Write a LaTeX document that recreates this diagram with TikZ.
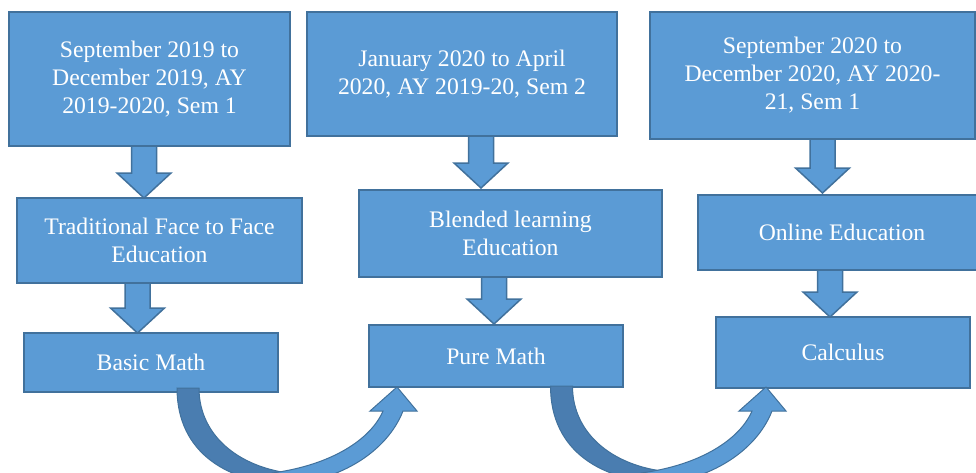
\documentclass[tikz,border=0pt]{standalone}
\usepackage{fontspec}
\setmainfont{Liberation Serif}
\usetikzlibrary{calc}

\definecolor{boxblue}{HTML}{5B9BD5}
\definecolor{boxline}{HTML}{41719C}
\definecolor{bandback}{HTML}{4A7DB0}

\tikzset{
    stagebox/.style={rectangle, draw=boxline, fill=boxblue, line width=1.5pt,
        inner sep=0pt, outer sep=0pt, align=center, text=white,
        font=\fontsize{23.7}{28}\selectfont},
    blockdown/.style={draw=boxline, fill=boxblue, line width=1.5pt,
        to path={($(\tikztostart)+(-12.5,0)$) -- ($(\tikztostart)+(12.5,0)$)
            -- ($(\tikztotarget)+(12.5,-25)$) -- ($(\tikztotarget)+(27,-25)$)
            -- (\tikztotarget) -- ($(\tikztotarget)+(-27,-25)$)
            -- ($(\tikztotarget)+(-12.5,-25)$) -- cycle}},
    curveback/.style={draw=boxline, fill=bandback, line width=1pt,
        to path={($(\tikztostart)+(-11,0)$)
            .. controls ($(\tikztostart)+(-11,65)$) and ($(\tikztostart)+(40,97)$) .. ($(\tikztostart)+(110,97)$)
            -- ($(\tikztostart)+(110,86)$)
            .. controls ($(\tikztostart)+(55,82)$) and ($(\tikztostart)+(11,50)$) .. ($(\tikztostart)+(11,0)$) -- cycle}},
    curvefront/.style={draw=boxline, fill=boxblue, line width=1pt,
        to path={($(\tikztotarget)+(-125,98)$)
            .. controls ($(\tikztotarget)+(-60,98)$) and ($(\tikztotarget)+(-10,65)$) .. ($(\tikztotarget)+(6,24)$)
            -- ($(\tikztotarget)+(20,24)$) -- (\tikztotarget) -- ($(\tikztotarget)+(-27,24)$)
            -- ($(\tikztotarget)+(-14,24)$)
            .. controls ($(\tikztotarget)+(-26,52)$) and ($(\tikztotarget)+(-65,78)$) .. ($(\tikztotarget)+(-125,86)$) -- cycle}}
}

\begin{document}
\begin{tikzpicture}[x=1pt, y=-1pt]
    \useasboundingbox (0,0) rectangle (976,472);

    % semesters
    \node[stagebox, minimum width=281pt, minimum height=134pt] (a1) at (149.5,79)
        {September 2019 to\\December 2019, AY\\2019-2020, Sem 1};
    \node[stagebox, minimum width=310pt, minimum height=124pt] (b1) at (462,74)
        {January 2020 to April\\2020, AY 2019-20, Sem 2};
    \node[stagebox, minimum width=325pt, minimum height=127pt] (c1) at (812.5,75.5)
        {September 2020 to\\December 2020, AY 2020-\\21, Sem 1};

    % modes
    \node[stagebox, minimum width=285pt, minimum height=85pt] (a2) at (159.5,240.5)
        {Traditional Face to Face\\Education};
    \node[stagebox, minimum width=303pt, minimum height=87pt] (b2) at (510.5,233.5)
        {Blended learning\\Education};
    \node[stagebox, minimum width=288pt, minimum height=75pt] (c2) at (842,232.5)
        {Online Education};

    % courses
    \node[stagebox, minimum width=254pt, minimum height=59pt] (a3) at (151,362.5) {Basic Math};
    \node[stagebox, minimum width=254pt, minimum height=62pt] (b3) at (496,356) {Pure Math};
    \node[stagebox, minimum width=254pt, minimum height=71pt] (c3) at (843,352.5) {Calculus};

    \draw[blockdown] ([xshift=-5.5pt]a1.south) to ([xshift=-15.5pt]a2.north);
    \draw[blockdown] ([xshift=19pt]b1.south) to ([xshift=-29.5pt,yshift=2pt]b2.north);
    \draw[blockdown] ([xshift=10pt]c1.south) to ([xshift=-19.5pt,yshift=2pt]c2.north);
    \draw[blockdown] ([xshift=-22pt]a2.south) to ([xshift=-13.5pt]a3.north);
    \draw[blockdown] ([xshift=-16.5pt]b2.south) to ([xshift=-2pt,yshift=1pt]b3.north);
    \draw[blockdown] ([xshift=-12pt]c2.south) to ([xshift=-13pt]c3.north);

    % curved arrows between courses
    \coordinate (s1) at ([xshift=37pt,yshift=4pt]a3.south);
    \coordinate (t1) at ([xshift=28pt]b3.south west);
    \coordinate (s2) at ([xshift=65.5pt,yshift=1pt]b3.south);
    \coordinate (t2) at ([xshift=50pt,yshift=1pt]c3.south west);
    \draw[curveback] (s1) to (t1);
    \draw[curvefront] (s1) to (t1);
    \draw[curveback] (s2) to (t2);
    \draw[curvefront] (s2) to (t2);
\end{tikzpicture}
\end{document}
